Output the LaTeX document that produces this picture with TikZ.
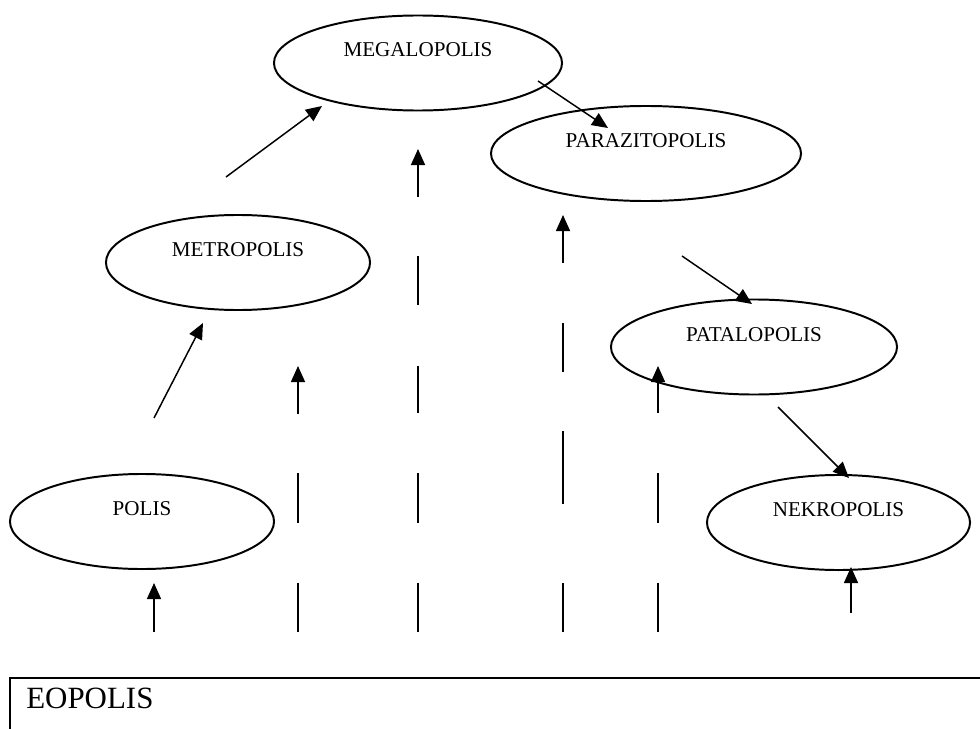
\documentclass[tikz,border=0pt]{standalone}
\usepackage{fontspec}
\setmainfont{Liberation Serif}
\usetikzlibrary{shapes,arrows.meta}
\tikzset{
        % City ellipses
        town/.style={ellipse, draw, line width=1.4pt, inner sep=0pt, minimum height=2.375cm, text height=0.35cm, text depth=0.65cm, font=\fontsize{15}{18}\selectfont},
        % Arrows
        rise/.style={-{Triangle[length=0.4cm, width=0.35cm]}, line width=1.05pt},
        % Dash pieces
        piece/.style={line width=1.05pt},
        % Base strip
        strip/.style={line width=1.6pt}
}

\begin{document}
\begin{tikzpicture}[x=0.025cm, y=-0.025cm]
    \useasboundingbox (0,0) rectangle (980,729);

    % cities
    \node[town, minimum width=7.2cm] (mega) at (418,63) {MEGALOPOLIS};
    \node[town, minimum width=7.75cm] (para) at (646,153.5) {PARAZITOPOLIS};
    \node[town, minimum width=6.6cm] (metro) at (238,262.5) {METROPOLIS};
    \node[town, minimum width=7.15cm] (pata) at (754,347) {PATALOPOLIS};
    \node[town, minimum width=6.6cm] (polis) at (142,521.5) {POLIS};
    \node[town, minimum width=6.575cm] (nekro) at (838.5,522.5) {NEKROPOLIS};

    % base
    \coordinate (base-l) at (10,729);
    \coordinate (base-c) at (10,678);
    \coordinate (base-r) at (980,678);
    \draw[strip] (base-l) -- (base-c) -- (base-r);
    \node[anchor=base west, inner sep=0pt, font=\fontsize{22}{26}\selectfont] (eopolis) at (26,708) {EOPOLIS};

    % arrow ends
    \coordinate (polis-in) at (154,632);
    \coordinate (polis-up) at (154,583);
    \coordinate (polis-out) at (154,418);
    \coordinate (metro-up) at (203,323);
    \coordinate (metro-out) at (226,177);
    \coordinate (mega-up) at (322,106);
    \coordinate (mega-out) at (538,81);
    \coordinate (para-dn) at (608,128);
    \coordinate (para-out) at (682,256);
    \coordinate (pata-dn) at (752,304);
    \coordinate (pata-out) at (778,407);
    \coordinate (nekro-dn) at (849,478);
    \coordinate (nekro-in) at (851,613);
    \coordinate (nekro-up) at (851,567);

    \draw[rise] (polis-in) -- (polis-up);
    \draw[rise] (polis-out) -- (metro-up);
    \draw[rise] (metro-out) -- (mega-up);
    \draw[rise] (mega-out) -- (para-dn);
    \draw[rise] (para-out) -- (pata-dn);
    \draw[rise] (pata-out) -- (nekro-dn);
    \draw[rise] (nekro-in) -- (nekro-up);

    % broken columns
    \foreach \n/\x/\a/\b in {a/298/414/366, b/418/197/149, c/563/263/215, d/658/413/366} {
        \coordinate (col\n-s) at (\x,\a);
        \coordinate (col\n-t) at (\x,\b);
        \draw[rise] (col\n-s) -- (col\n-t);
    }
    \foreach \x/\a/\b in {298/473/523, 298/583/632,
                          418/256/305, 418/366/413, 418/473/523, 418/583/632,
                          563/323/372, 563/431/504, 563/583/632,
                          658/473/523, 658/583/632}
        \draw[piece] (\x,\a) -- (\x,\b);
\end{tikzpicture}
\end{document}
